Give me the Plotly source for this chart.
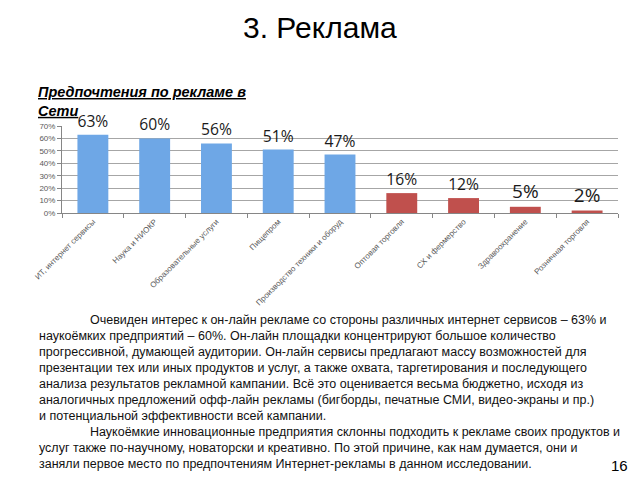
import plotly.graph_objects as go

# Data
categories = [
    'ИТ, интернет сервисы',
    'Наука и НИОКР',
    'Образовательные услуги',
    'Пищепром',
    'Производство техники и оборуд',
    'Оптовая торговля',
    'СХ и фермерство',
    'Здравоохранение',
    'Розничная торговля',
]
values = [63, 60, 56, 51, 47, 16, 12, 5, 2]
bar_colors = ['#6ea7e6'] * 5 + ['#c0504d'] * 4
y_ticks = [0, 10, 20, 30, 40, 50, 60, 70]

paragraph_lines = [
    'Очевиден интерес к он-лайн рекламе со стороны различных интернет сервисов – 63% и',
    'наукоёмких предприятий – 60%. Он-лайн площадки концентрируют большое количество',
    'прогрессивной, думающей аудитории. Он-лайн сервисы предлагают массу возможностей для',
    'презентации тех или иных продуктов и услуг, а также охвата, таргетирования и последующего',
    'анализа результатов рекламной кампании. Всё это оценивается весьма бюджетно, исходя из',
    'аналогичных предложений офф-лайн рекламы (бигборды, печатные СМИ, видео-экраны и пр.)',
    'и потенциальной эффективности всей кампании.',
    'Наукоёмкие инновационные предприятия склонны подходить к рекламе своих продуктов и',
    'услуг также по-научному, новаторски и креативно. По этой причине, как нам думается, они и',
    'заняли первое место по предпочтениям Интернет-рекламы в данном исследовании.',
]
indented = [0, 7]

# page body has an 8px margin, so the figure is shifted by OFF
OFF = 8
W, H = 640 - OFF, 480 - OFF
L, R, T, B = 62 - OFF, 22, 126 - OFF, 267


def px(x):
    return (x - OFF - L) / (W - L - R)


def py(y):
    return (H - B - (y - OFF)) / (H - T - B)


fig = go.Figure()
fig.add_trace(go.Bar(
    x=categories,
    y=values,
    marker=dict(color=bar_colors, line=dict(width=0)),
    width=0.5,
    text=[f'{v}%' for v in values],
    textposition='outside',
    cliponaxis=False,
    textfont=dict(family='Open Sans', size=19, color='#1a1a1a'),
))

annotations = [
    dict(text='3. Реклама', x=px(320), y=py(28), xanchor='center', yanchor='middle',
         font=dict(family='Liberation Sans', size=30, color='#000000')),
    dict(text='<b><i><u>Предпочтения по рекламе в</u></i></b><br><b><i><u>Сети</u></i></b>',
         x=px(36), y=py(101), xanchor='left', yanchor='middle', align='left',
         font=dict(family='Liberation Sans', size=14.5, color='#000000')),
    dict(text='16', x=px(630), y=py(465), xanchor='right', yanchor='middle',
         font=dict(family='Liberation Sans', size=15, color='#000000')),
]
for i, line in enumerate(paragraph_lines):
    x0 = 88 if i in indented else 37
    annotations.append(dict(
        text=line, x=px(x0), y=py(320 + 16 * i), xanchor='left', yanchor='middle',
        align='left', font=dict(family='Liberation Sans', size=12.5, color='#111111'),
    ))
for a in annotations:
    a.update(xref='paper', yref='paper', showarrow=False)

fig.update_layout(
    width=W, height=H,
    margin=dict(l=L, r=R, t=T, b=B),
    paper_bgcolor='white', plot_bgcolor='white',
    showlegend=False,
    bargap=0.5,
    annotations=annotations,
    xaxis=dict(
        tickangle=-45, tickfont=dict(family='Liberation Sans', size=8, color='#595959'),
        showline=True, linecolor='#868686', linewidth=1,
        ticks='outside', tickson='boundaries', ticklen=4, tickcolor='#868686',
        showgrid=False,
    ),
    yaxis=dict(
        range=[0, 70], tickvals=y_ticks, ticktext=[f'{t}%' for t in y_ticks],
        tickfont=dict(family='Liberation Sans', size=8, color='#595959'),
        showline=True, linecolor='#868686', linewidth=1,
        ticks='outside', ticklen=4, tickcolor='#868686',
        showgrid=True, gridcolor='#a6a6a6', gridwidth=1, zeroline=False,
    ),
)

fig.write_html('out.html')
